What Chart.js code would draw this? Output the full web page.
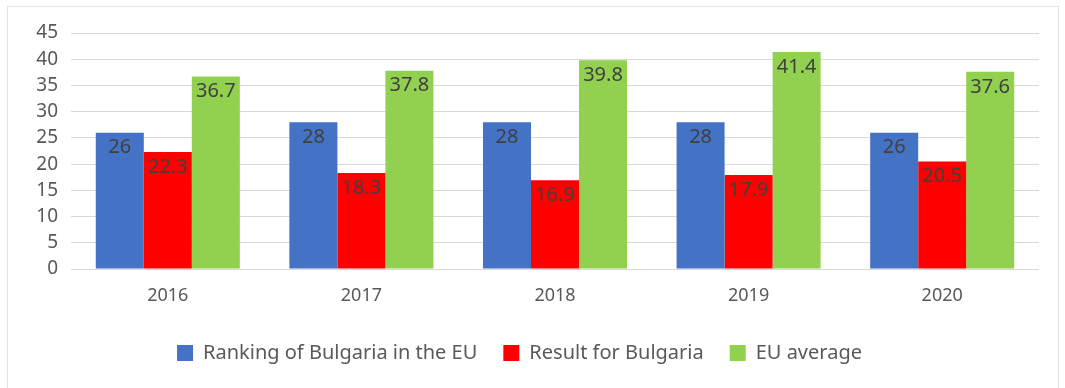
<!DOCTYPE html>
<html>
<head>
<meta charset="utf-8">
<script src="https://cdn.jsdelivr.net/npm/chart.js@4"></script>
<style>
  html, body { margin: 0; padding: 0; background: #fff; overflow: hidden; }
  #wrap { position: relative; width: 1065px; height: 388px; }
  #frame { position: absolute; left: 7px; top: 6px; width: 1050px; height: 400px; border: 1px solid #e3e3e3; }
  #barChart { position: absolute; left: 0; top: 0; }
</style>
</head>
<body>
<div id="wrap">
  <div id="frame"></div>
  <canvas id="barChart" width="1065" height="388"></canvas>
</div>
<script>
// data
const years = ['2016', '2017', '2018', '2019', '2020'];
const rankingBG = [26, 28, 28, 28, 26];
const resultBG = [22.3, 18.3, 16.9, 17.9, 20.5];
const euAverage = [36.7, 37.8, 39.8, 41.4, 37.6];
const yTicks = [0, 5, 10, 15, 20, 25, 30, 35, 40, 45];

const fontFamily = "'Noto Sans', 'Open Sans', sans-serif";
const textGray = '#595959';

// value labels drawn just inside the top of each bar
const insideEndLabels = {
    id: 'insideEndLabels',
    afterDatasetsDraw(chart) {
        const ctx = chart.ctx;
        ctx.save();
        ctx.font = '20px ' + fontFamily;
        ctx.fillStyle = '#404040';
        ctx.textAlign = 'center';
        ctx.textBaseline = 'middle';
        chart.data.datasets.forEach((ds, i) => {
            chart.getDatasetMeta(i).data.forEach((bar, j) => {
                ctx.fillText(String(ds.data[j]), bar.x, bar.y + 15);
            });
        });
        ctx.restore();
    }
};

const data = {
    labels: years,
    datasets: [
        { label: 'Ranking of Bulgaria in the EU', data: rankingBG, backgroundColor: '#4472C4' },
        { label: 'Result for Bulgaria', data: resultBG, backgroundColor: '#FF0000' },
        { label: 'EU average', data: euAverage, backgroundColor: '#92D050' }
    ]
};

const config = {
    type: 'bar',
    data: data,
    plugins: [insideEndLabels],
    options: {
        responsive: false,
        animation: false,
        devicePixelRatio: 1,
        layout: { padding: { left: 0, right: 26, top: 33, bottom: 15 } },
        datasets: {
            bar: { categoryPercentage: 0.744, barPercentage: 1.0 }
        },
        scales: {
            x: {
                grid: { display: false, drawTicks: false },
                border: { display: false },
                ticks: { color: textGray, font: { family: fontFamily, size: 18 }, padding: 16 },
                afterFit(scale) { scale.height = 48; }
            },
            y: {
                min: 0,
                max: 45,
                afterBuildTicks(scale) { scale.ticks = yTicks.map(v => ({ value: v })); },
                grid: { color: '#d9d9d9', lineWidth: 1, drawTicks: false },
                border: { display: false },
                ticks: { color: textGray, font: { family: fontFamily, size: 19 }, padding: 13 },
                afterFit(scale) { scale.width = 71; }
            }
        },
        plugins: {
            tooltip: { enabled: false },
            legend: {
                position: 'bottom',
                labels: {
                    color: textGray,
                    font: { family: fontFamily, size: 20 },
                    boxWidth: 16,
                    boxHeight: 16,
                    padding: 26
                }
            }
        }
    }
};

var myChart = new Chart(document.getElementById('barChart'), config);
</script>
</body>
</html>
